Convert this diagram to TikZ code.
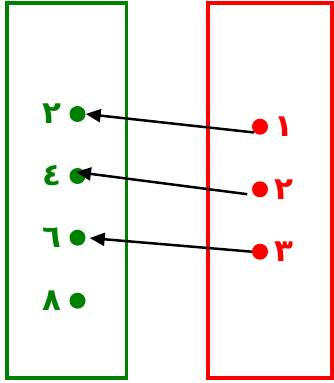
\documentclass[tikz,border=0pt]{standalone}
\usepackage{fontspec}
\usepackage{tikz}
\usetikzlibrary{arrows.meta,calc}
\newfontfamily\arabicfont[Script=Arabic]{DejaVu Sans}
\TeXXeTstate=1
\definecolor{dgreen}{RGB}{0,128,0}

\begin{document}
\begin{tikzpicture}[x=1pt, y=1pt, >={Triangle[length=15pt,width=13pt]},
	dot/.style={circle, fill, inner sep=0pt, minimum size=16pt},
	num/.style={font=\arabicfont\bfseries\fontsize{31}{31}\selectfont, inner sep=0pt}]
	\useasboundingbox (0,0) rectangle (333,383);
	% the two sets
	\draw[dgreen, line width=3.8pt] (7,5) rectangle (126.5,380);
	\draw[red, line width=3.8pt] (208,5) rectangle (332,380);
	% elements of the codomain
	\node[dot, dgreen, label={[num, text=dgreen, label distance=7.5pt]left:\beginR ٢\endR}] (g1) at (77.5,269) {};
	\node[dot, dgreen, label={[num, text=dgreen, label distance=7.5pt]left:\beginR ٤\endR}] (g2) at (77.5,207) {};
	\node[dot, dgreen, label={[num, text=dgreen, label distance=7.5pt]left:\beginR ٦\endR}] (g3) at (77.5,145.3) {};
	\node[dot, dgreen, label={[num, text=dgreen, label distance=7.5pt]left:\beginR ٨\endR}] (g4) at (77.5,82.3) {};
	% elements of the domain
	\node[dot, red, label={[num, text=red, label distance=6.5pt]right:\beginR ١\endR}] (r1) at (260,256.3) {};
	\node[dot, red, label={[num, text=red, label distance=6.5pt]right:\beginR ٢\endR}] (r2) at (260,193.7) {};
	\node[dot, red, label={[num, text=red, label distance=6.5pt]right:\beginR ٣\endR}] (r3) at (260,131.3) {};
	% the mapping
	\draw[->, line width=2.5pt] (r1.south west) -- (g1.east);
	\draw[->, line width=2.5pt, shorten <=7pt] (r2.south west) -- ($(g2.center)+(-1.5,4)$);
	\draw[->, line width=2.5pt, shorten >=4pt] (r3.west) -- (g3.east);
\end{tikzpicture}
\end{document}
